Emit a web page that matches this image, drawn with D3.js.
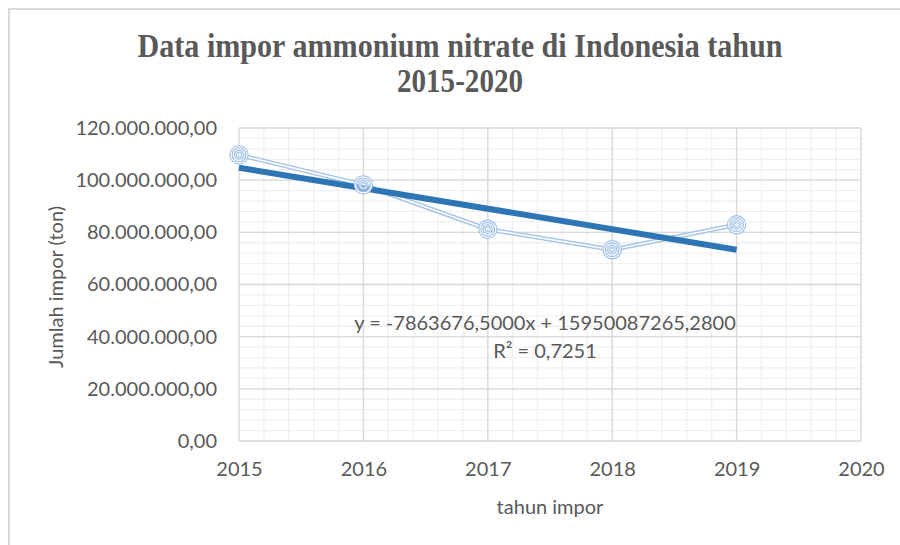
<!DOCTYPE html>
<html>
<head>
<meta charset="utf-8">
<script src="https://cdn.jsdelivr.net/npm/d3@7"></script>
<style>
  html, body { margin: 0; padding: 0; background: #fff; }
  svg { display: block; }
</style>
</head>
<body>
<svg id="chart" width="900" height="545"></svg>
<script>
// ---- data ----
const years = [2015, 2016, 2017, 2018, 2019];
const imports = [109700000, 98200000, 81200000, 73300000, 82900000];
const xTicks = [2015, 2016, 2017, 2018, 2019, 2020];
const yTicks = [0, 20000000, 40000000, 60000000, 80000000, 100000000, 120000000];
const trendSlope = -7863676.5;
const trendIntercept = 15950087265.28;
const titleLines = ["Data impor ammonium nitrate di Indonesia tahun", "2015-2020"];
const equationText = "y = -7863676,5000x + 15950087265,2800";
const r2Text = "R² = 0,7251";
const xTitle = "tahun impor";
const yTitle = "Jumlah impor (ton)";

// ---- layout ----
const W = 900, H = 545;
const plot = { left: 239, right: 861, top: 128, bottom: 441 };
const svg = d3.select("#chart");
const textColor = "#595959";
const font = "Lato, 'Open Sans', sans-serif";
const fs = "20px";

// chart border
svg.append("rect").attr("x", 9).attr("y", 9).attr("width", W + 20).attr("height", H + 20)
  .attr("fill", "#fff").attr("stroke", "#d9d9d9").attr("stroke-width", 2);

const x = d3.scaleLinear().domain([2015, 2020]).range([plot.left, plot.right]);
const y = d3.scaleLinear().domain([0, 120000000]).range([plot.bottom, plot.top]);

// minor grid
const g = svg.append("g");
g.selectAll(".mx").data(d3.range(0, 26).map(i => 2015 + i * 0.2)).enter().append("line")
  .attr("x1", d => x(d)).attr("x2", d => x(d)).attr("y1", plot.top).attr("y2", plot.bottom)
  .attr("stroke", "#f0f0f0").attr("stroke-width", 1.3);
g.selectAll(".my").data(d3.range(0, 31).map(i => i * 4000000)).enter().append("line")
  .attr("y1", d => y(d)).attr("y2", d => y(d)).attr("x1", plot.left).attr("x2", plot.right)
  .attr("stroke", "#f0f0f0").attr("stroke-width", 1.3);
// major grid
g.selectAll(".Mx").data(xTicks).enter().append("line")
  .attr("x1", d => x(d)).attr("x2", d => x(d)).attr("y1", plot.top).attr("y2", plot.bottom)
  .attr("stroke", "#d9d9d9").attr("stroke-width", 1.3);
g.selectAll(".My").data(yTicks).enter().append("line")
  .attr("y1", d => y(d)).attr("y2", d => y(d)).attr("x1", plot.left).attr("x2", plot.right)
  .attr("stroke", "#d9d9d9").attr("stroke-width", 1.3);

// axes labels via d3 axes (no domain/ticks lines)
const fmtY = d => d === 0 ? "0,00" : d3.format(",")(d).replace(/,/g, ".") + ",00";
const yAxis = svg.append("g").attr("transform", `translate(${plot.left},0)`)
  .call(d3.axisLeft(y).tickValues(yTicks).tickFormat(fmtY).tickSize(0).tickPadding(22));
const xAxis = svg.append("g").attr("transform", `translate(0,${plot.bottom})`)
  .call(d3.axisBottom(x).tickValues(xTicks).tickFormat(d3.format("d")).tickSize(0).tickPadding(21));
[yAxis, xAxis].forEach(a => {
  a.select(".domain").remove();
  a.selectAll("text").attr("fill", textColor).style("font-family", font).style("font-size", fs);
});

// data line (compound: two thin lines)
const line = d3.line().x((d, i) => x(years[i])).y(d => y(d));
svg.append("path").datum(imports).attr("d", line).attr("fill", "none")
  .attr("stroke", "#a7c5e9").attr("stroke-width", 4.5);
svg.append("path").datum(imports).attr("d", line).attr("fill", "none")
  .attr("stroke", "#ffffff").attr("stroke-width", 1.6);

// trend line
const tx = [years[0], years[years.length - 1]];
svg.append("line")
  .attr("x1", x(tx[0])).attr("y1", y(trendSlope * tx[0] + trendIntercept))
  .attr("x2", x(tx[1])).attr("y2", y(trendSlope * tx[1] + trendIntercept))
  .attr("stroke", "#2e75b6").attr("stroke-width", 6);

// markers
const mk = svg.append("g").selectAll("g").data(imports).enter().append("g")
  .attr("transform", (d, i) => `translate(${x(years[i])},${y(d)})`);
mk.append("circle").attr("r", 8).attr("fill", "#ffffff").attr("fill-opacity", 0.4)
  .attr("stroke", "#9ec0e8").attr("stroke-width", 3.4);
mk.append("circle").attr("r", 8).attr("fill", "none").attr("stroke", "#ffffff").attr("stroke-width", 1.1);
mk.append("circle").attr("r", 3.6).attr("fill", "none").attr("stroke", "#9ec0e8").attr("stroke-width", 2.8);
mk.append("circle").attr("r", 3.6).attr("fill", "none").attr("stroke", "#ffffff").attr("stroke-width", 0.8);

// equation
svg.append("text").attr("x", 545).attr("y", 330).attr("text-anchor", "middle")
  .attr("fill", textColor).style("font-family", font).style("font-size", fs).text(equationText);
svg.append("text").attr("x", 545).attr("y", 358).attr("text-anchor", "middle")
  .attr("fill", textColor).style("font-family", font).style("font-size", fs).text(r2Text);

// title
const titleW = [645, 126];
titleLines.forEach((t, i) => {
  svg.append("text").attr("x", 460).attr("y", 57 + i * 35).attr("text-anchor", "middle")
    .attr("fill", textColor).style("font-family", "'Liberation Serif', 'Times New Roman', serif")
    .style("font-weight", "bold").style("font-size", "34px")
    .attr("textLength", titleW[i]).attr("lengthAdjust", "spacingAndGlyphs").text(t);
});

// axis titles
svg.append("text").attr("x", 550).attr("y", 514).attr("text-anchor", "middle")
  .attr("fill", textColor).style("font-family", font).style("font-size", fs).text(xTitle);
svg.append("text").attr("transform", "translate(63,287) rotate(-90)").attr("text-anchor", "middle")
  .attr("fill", textColor).style("font-family", font).style("font-size", fs).text(yTitle);
</script>
</body>
</html>
